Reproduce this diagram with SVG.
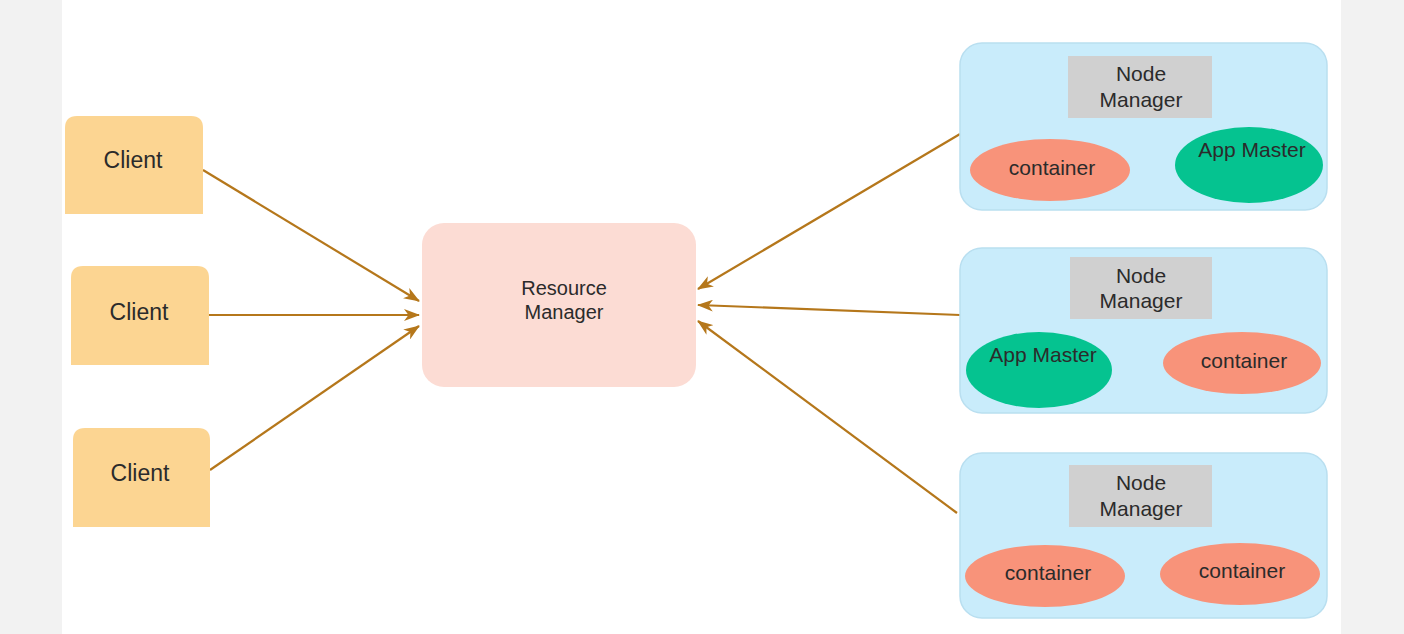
<svg xmlns="http://www.w3.org/2000/svg" width="1404" height="634" viewBox="0 0 1404 634">
<style>
text{font-family:"Liberation Sans",Arial,sans-serif;fill:#2b2b2b;text-anchor:middle}
.client{fill:#fcd592}
.rm{fill:#fcdcd4}
.nm{fill:#c9ecfb;stroke:#b9dff0;stroke-width:1.5}
.nmlabel{fill:#d0d0d0}
.ct{fill:#f8937a}
.am{fill:#05c390}
.edge{stroke:#b5771b;stroke-width:2.2;fill:none;marker-end:url(#arr)}
.t23{font-size:23px}
.t21{font-size:21px}
.t20{font-size:20px}
</style>
<defs>
<marker id="arr" viewBox="0 0 16 12" refX="15" refY="6" markerWidth="16" markerHeight="12" markerUnits="userSpaceOnUse" orient="auto">
<path d="M0,0 L16,6 L0,12 L4.5,6 Z" fill="#b5771b"/>
</marker>
</defs>
<rect x="0" y="0" width="1404" height="634" fill="#f2f2f2"/>
<rect x="62" y="0" width="1279" height="634" fill="#ffffff"/>

<g id="connectors">
<line class="edge" x1="203" y1="170" x2="419" y2="301"/>
<line class="edge" x1="209" y1="315" x2="419" y2="315"/>
<line class="edge" x1="210" y1="470" x2="419" y2="326"/>
<line class="edge" x1="960" y1="134" x2="698" y2="289"/>
<line class="edge" x1="960" y1="315" x2="698" y2="305"/>
<line class="edge" x1="957" y1="513" x2="698" y2="321"/>
</g>

<g id="client1">
<path class="client" d="M65,214 V128 Q65,116 77,116 H191 Q203,116 203,128 V214 Z"/>
<text class="t23" x="133" y="168">Client</text>
</g>
<g id="client2">
<path class="client" d="M71,365 V278 Q71,266 83,266 H197 Q209,266 209,278 V365 Z"/>
<text class="t23" x="139" y="320">Client</text>
</g>
<g id="client3">
<path class="client" d="M73,527 V440 Q73,428 85,428 H198 Q210,428 210,440 V527 Z"/>
<text class="t23" x="140" y="481">Client</text>
</g>

<g id="resource-manager">
<rect class="rm" x="422" y="223" width="274" height="164" rx="22"/>
<text class="t20" x="564" y="295">Resource</text>
<text class="t20" x="564" y="319">Manager</text>
</g>

<g id="node1">
<rect class="nm" x="960" y="43" width="367" height="167" rx="22"/>
<rect class="nmlabel" x="1068" y="56" width="144" height="62"/>
<text class="t21" x="1141" y="81">Node</text>
<text class="t21" x="1141" y="107">Manager</text>
<ellipse class="ct" cx="1050" cy="170" rx="80" ry="31"/>
<text class="t21" x="1052" y="175">container</text>
<ellipse class="am" cx="1249" cy="165" rx="74" ry="38"/>
<text class="t21" x="1252" y="157">App Master</text>
</g>

<g id="node2">
<rect class="nm" x="960" y="248" width="367" height="165" rx="22"/>
<rect class="nmlabel" x="1070" y="257" width="142" height="62"/>
<text class="t21" x="1141" y="283">Node</text>
<text class="t21" x="1141" y="308">Manager</text>
<ellipse class="am" cx="1039" cy="370" rx="73" ry="38"/>
<text class="t21" x="1043" y="362">App Master</text>
<ellipse class="ct" cx="1242" cy="363" rx="79" ry="31"/>
<text class="t21" x="1244" y="368">container</text>
</g>

<g id="node3">
<rect class="nm" x="960" y="453" width="367" height="165" rx="22"/>
<rect class="nmlabel" x="1069" y="465" width="143" height="62"/>
<text class="t21" x="1141" y="490">Node</text>
<text class="t21" x="1141" y="516">Manager</text>
<ellipse class="ct" cx="1045" cy="576" rx="80" ry="31"/>
<text class="t21" x="1048" y="580">container</text>
<ellipse class="ct" cx="1240" cy="574" rx="80" ry="31"/>
<text class="t21" x="1242" y="578">container</text>
</g>
</svg>
